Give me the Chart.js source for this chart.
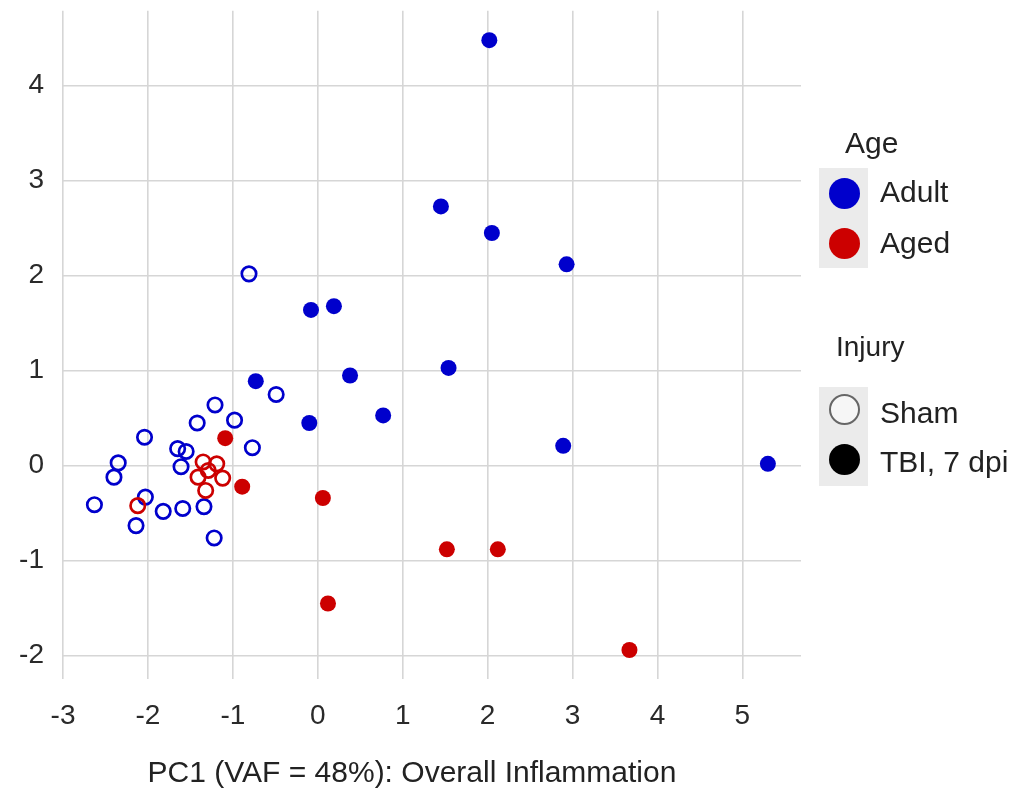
<!DOCTYPE html>
<html>
<head>
<meta charset="utf-8">
<script src="https://cdn.jsdelivr.net/npm/chart.js@4.4.1/dist/chart.umd.min.js"></script>
<style>
  body { margin: 0; background: #fff; }
  #wrap { position: relative; width: 1020px; height: 788px; font-family: "Liberation Sans", Arial, sans-serif; color: #222; }
  #pca { position: absolute; left: 0; top: 0; }
  .txt { position: absolute; white-space: pre; height: 36px; line-height: 36px; }
  .keybox { position: absolute; left: 819px; width: 49px; background: #ebebeb; }
  .dot { position: absolute; left: 829px; width: 31px; height: 31px; border-radius: 50%; box-sizing: border-box; }
</style>
</head>
<body>
<div id="wrap">
  <canvas id="pca" width="1020" height="788"></canvas>

  <div class="txt" style="left:0; width:824px; top:754px; text-align:center; font-size:30px;">PC1 (VAF = 48%): Overall Inflammation</div>

  <div class="txt" style="left:845px; top:125px; font-size:30px;">Age</div>
  <div class="keybox" style="top:168px; height:100px;"></div>
  <div class="dot" style="top:178px; background:#0000cc;"></div>
  <div class="dot" style="top:228px; background:#cc0000;"></div>
  <div class="txt" style="left:880px; top:174px; font-size:30px;">Adult</div>
  <div class="txt" style="left:880px; top:225px; font-size:30px;">Aged</div>

  <div class="txt" style="left:836px; top:329px; font-size:28px;">Injury</div>
  <div class="keybox" style="top:387px; height:99px;"></div>
  <div class="dot" style="top:394px; background:#f6f6f6; border:2px solid #666;"></div>
  <div class="dot" style="top:444px; background:#000;"></div>
  <div class="txt" style="left:880px; top:395px; font-size:30px;">Sham</div>
  <div class="txt" style="left:880px; top:444px; font-size:30px;">TBI, 7 dpi</div>
</div>

<script>
// PC1 / PC2 scores
const adultShamX = [-0.81, -0.49, -1.21, -0.98, -1.42, -0.77, -2.04, -1.65, -1.55, -2.35, -1.61, -2.40, -2.63, -2.03, -1.82, -1.59, -1.34, -2.14, -1.22];
const adultShamY = [2.02, 0.75, 0.64, 0.48, 0.45, 0.19, 0.30, 0.18, 0.15, 0.03, -0.01, -0.12, -0.41, -0.33, -0.48, -0.45, -0.43, -0.63, -0.76];

const adultTbiX = [2.02, 1.45, 2.05, 2.93, -0.08, 0.19, -0.73, 0.38, 1.54, -0.10, 0.77, 2.89, 5.30];
const adultTbiY = [4.48, 2.73, 2.45, 2.12, 1.64, 1.68, 0.89, 0.95, 1.03, 0.45, 0.53, 0.21, 0.02];

const agedShamX = [-1.35, -1.19, -1.29, -1.41, -1.12, -1.32, -2.12];
const agedShamY = [0.04, 0.02, -0.05, -0.12, -0.13, -0.26, -0.42];

const agedTbiX = [-1.09, -0.89, 0.06, 1.52, 2.12, 0.12, 3.67];
const agedTbiY = [0.29, -0.22, -0.34, -0.88, -0.88, -1.45, -1.94];

const blue = "#0000cc";
const red = "#cc0000";

function toPoints(xs, ys) {
  return xs.map((x, i) => ({ x: x, y: ys[i] }));
}

const canvas = document.querySelector("#pca");

const options = {
  type: "scatter",
  data: {
    datasets: [
      {
        label: "Aged, TBI",
        data: toPoints(agedTbiX, agedTbiY),
        backgroundColor: red,
        borderWidth: 0,
        pointRadius: 8,
      },
      {
        label: "Aged, Sham",
        data: toPoints(agedShamX, agedShamY),
        backgroundColor: "rgba(0,0,0,0)",
        borderColor: red,
        borderWidth: 2.7,
        pointRadius: 7.2,
      },
      {
        label: "Adult, TBI",
        data: toPoints(adultTbiX, adultTbiY),
        backgroundColor: blue,
        borderWidth: 0,
        pointRadius: 8,
      },
      {
        label: "Adult, Sham",
        data: toPoints(adultShamX, adultShamY),
        backgroundColor: "rgba(0,0,0,0)",
        borderColor: blue,
        borderWidth: 2.7,
        pointRadius: 7.2,
      },
    ],
  },
  options: {
    responsive: false,
    animation: false,
    layout: { padding: { left: 0, top: 10.7, right: 219, bottom: 0 } },
    plugins: {
      legend: { display: false },
      tooltip: { enabled: false },
    },
    scales: {
      x: {
        type: "linear",
        min: -3,
        max: 5.69,
        border: { display: false },
        grid: { color: "#d6d6d6", lineWidth: 1.6, drawTicks: false },
        ticks: {
          stepSize: 1,
          includeBounds: false,
          autoSkip: false,
          maxRotation: 0,
          padding: 20,
          color: "#2a2a2a",
          font: { family: "'Liberation Sans', Arial, sans-serif", size: 28 },
        },
        afterFit(scale) {
          scale.height = 109;
          scale.paddingLeft = 0;
          scale.paddingRight = 0;
        },
      },
      y: {
        type: "linear",
        min: -2.245,
        max: 4.79,
        border: { display: false },
        grid: { color: "#d6d6d6", lineWidth: 1.6, drawTicks: false },
        ticks: {
          stepSize: 1,
          includeBounds: false,
          padding: 19,
          color: "#2a2a2a",
          font: { family: "'Liberation Sans', Arial, sans-serif", size: 28 },
        },
        afterFit(scale) {
          scale.width = 63;
          scale.paddingTop = 0;
          scale.paddingBottom = 0;
        },
      },
    },
  },
};

const pcaChart = new Chart(canvas, options);
</script>
</body>
</html>
